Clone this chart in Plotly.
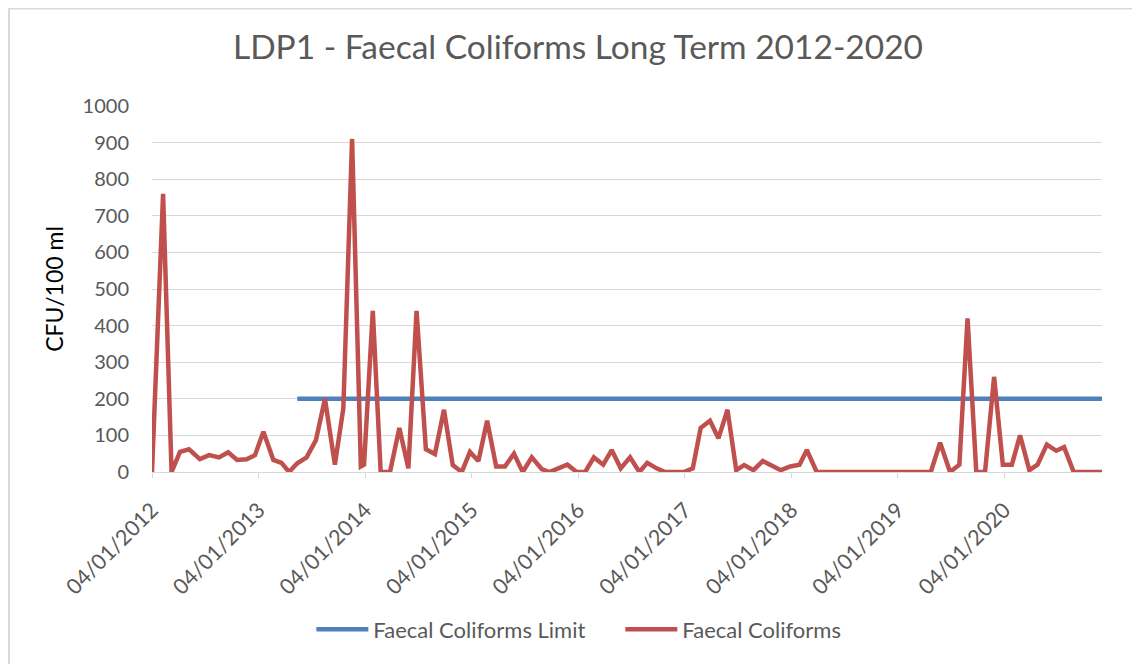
import plotly.graph_objects as go

# sampling dates and faecal coliform counts, CFU/100 ml
sample_dates = [
    "2012-01-04", "2012-02-11", "2012-03-11", "2012-04-09", "2012-05-10", "2012-06-16",
    "2012-07-18", "2012-08-21", "2012-09-21", "2012-10-22", "2012-11-23", "2012-12-22",
    "2013-01-20", "2013-02-23", "2013-03-23", "2013-04-18", "2013-05-16", "2013-06-17",
    "2013-07-19", "2013-08-19", "2013-09-22", "2013-10-21", "2013-11-20", "2013-12-20",
    "2013-12-31", "2014-01-30", "2014-02-26", "2014-03-30", "2014-05-01", "2014-06-01",
    "2014-06-29", "2014-07-31", "2014-08-31", "2014-10-01", "2014-10-31", "2014-12-01",
    "2014-12-29", "2015-01-27", "2015-02-26", "2015-03-29", "2015-04-28", "2015-05-29",
    "2015-06-28", "2015-07-29", "2015-09-01", "2015-09-27", "2015-10-28", "2015-11-28",
    "2015-12-30", "2016-01-28", "2016-02-27", "2016-03-30", "2016-04-28", "2016-05-29",
    "2016-06-30", "2016-08-01", "2016-08-28", "2016-09-29", "2016-10-28", "2016-12-01",
    "2017-01-01", "2017-01-31", "2017-02-27", "2017-03-31", "2017-04-29", "2017-05-30",
    "2017-06-29", "2017-07-26", "2017-08-27", "2017-09-28", "2017-10-29", "2017-11-29",
    "2017-12-31", "2018-02-01", "2018-02-26", "2018-04-01", "2018-05-01", "2018-06-01",
    "2018-07-01", "2018-08-01", "2018-09-01", "2018-10-01", "2018-11-01", "2018-12-01",
    "2019-01-01", "2019-02-01", "2019-03-01", "2019-03-30", "2019-04-27", "2019-05-29",
    "2019-07-02", "2019-08-03", "2019-08-31", "2019-09-30", "2019-10-30", "2019-11-30",
    "2019-12-30", "2020-01-30", "2020-02-27", "2020-03-30", "2020-04-27", "2020-05-29",
    "2020-06-30", "2020-07-27", "2020-08-29", "2020-09-27", "2020-10-29", "2020-12-04",
]
coliforms = [
    0, 760, 0, 55, 62, 35,
    46, 40, 54, 33, 35, 46,
    110, 33, 25, 0, 24, 40,
    87, 200, 20, 174, 910, 15,
    20, 440, 0, 0, 120, 10,
    440, 62, 49, 170, 19, 0,
    55, 30, 140, 15, 15, 50,
    0, 40, 8, 0, 10, 20,
    0, 0, 40, 20, 60, 10,
    40, 0, 25, 10, 0, 0,
    0, 10, 120, 140, 92, 170,
    5, 19, 5, 30, 19, 5,
    15, 20, 60, 0, 0, 0,
    0, 0, 0, 0, 0, 0,
    0, 0, 0, 0, 0, 80,
    0, 20, 420, 0, 0, 260,
    20, 20, 100, 5, 20, 75,
    58, 68, 0, 0, 0, 0,
]
limit_value = 200
limit_start = "2013-05-16"

tick_dates = ["2012-01-04", "2013-01-04", "2014-01-04", "2015-01-04", "2016-01-04",
              "2017-01-04", "2018-01-04", "2019-01-04", "2020-01-04"]
tick_labels = ["04/01/2012", "04/01/2013", "04/01/2014", "04/01/2015", "04/01/2016",
               "04/01/2017", "04/01/2018", "04/01/2019", "04/01/2020"]
y_ticks = [0, 100, 200, 300, 400, 500, 600, 700, 800, 900, 1000]

limit = [limit_value if d >= limit_start else None for d in sample_dates]

font = "Lato, 'Open Sans', sans-serif"
grey = "#595959"

fig = go.Figure()
fig.add_trace(go.Scatter(x = sample_dates, y = limit, mode = "lines", name = "Faecal Coliforms Limit",
                         line = dict(color = "#4F81BD", width = 4.5)))
fig.add_trace(go.Scatter(x = sample_dates, y = coliforms, mode = "lines", name = "Faecal Coliforms",
                         line = dict(color = "#C0504D", width = 4.5)))

fig.update_xaxes(range = [sample_dates[0], sample_dates[-1]], tickvals = tick_dates, ticktext = tick_labels,
                 tickangle = -45, showgrid = False, showline = True, linecolor = "#d9d9d9", linewidth = 1,
                 ticks = "outside", ticklen = 5, tickcolor = "#d9d9d9", zeroline = False, ticklabelstandoff = 11,
                 tickfont = dict(family = font, size = 21.5, color = grey))
fig.update_yaxes(range = [0, 1000], tickvals = y_ticks, showgrid = True, gridcolor = "#d9d9d9", gridwidth = 1,
                 zeroline = False, showline = False, ticks = "", ticklabelstandoff = 22,
                 tickfont = dict(family = font, size = 20, color = grey),
                 title = dict(text = "CFU/100 ml", font = dict(family = font, size = 23, color = "black"), standoff = 12))

fig.update_layout(
    width = 1140, height = 664,
    margin = dict(l = 144, r = 46, t = 98, b = 200),
    paper_bgcolor = "white", plot_bgcolor = "white",
    title = dict(text = "LDP1 - Faecal Coliforms Long Term 2012-2020", x = 0.5, xanchor = "center", y = 0.941,
                 yanchor = "middle", font = dict(family = font, size = 33.5, color = grey)),
    legend = dict(orientation = "h", x = 0.493, xanchor = "center", y = -0.43, yanchor = "middle",
                  font = dict(family = font, size = 22, color = grey), itemwidth = 52, entrywidth = 242),
    showlegend = True,
)
# chart-area border
fig.add_shape(type = "rect", xref = "paper", yref = "paper", x0 = -0.1505, x1 = 1.1, y0 = -0.6, y1 = 1.2665,
              line = dict(color = "#d9d9d9", width = 2), layer = "below")

fig.write_html("out.html")
